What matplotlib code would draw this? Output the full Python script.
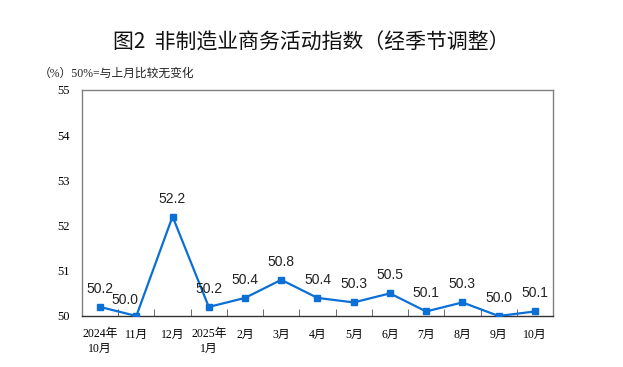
import matplotlib
matplotlib.use("Agg")
import matplotlib.pyplot as plt

categories = ["2024年\n10月", "11月", "12月", "2025年\n1月", "2月", "3月", "4月",
              "5月", "6月", "7月", "8月", "9月", "10月"]
values = [50.2, 50.0, 52.2, 50.2, 50.4, 50.8, 50.4, 50.3, 50.5, 50.1, 50.3, 50.0, 50.1]
yticks = [50, 51, 52, 53, 54, 55]

fam = ['Liberation Serif', 'Noto Sans CJK SC']
fig = plt.figure(figsize=(6.23, 3.67), dpi=100)
ax = fig.add_axes([0.1316, 0.139, 0.756, 0.616])

x = list(range(len(values)))
color = '#0a6fd6'
ax.plot(x, values, color=color, lw=1.6, marker='s', markersize=4.8, zorder=3)

offsets = {1: (-11, 16)}
for i, v in enumerate(values):
    dx, dy = offsets.get(i, (0, 18))
    ax.annotate(f"{v:.1f}", (i, v), xytext=(dx, dy), textcoords='offset pixels',
                ha='center', va='center', fontsize=10, family='Liberation Sans',
                color='#222222')

ax.set_xlim(-0.5, len(values) - 0.5)
ax.set_ylim(50, 55)
ax.set_yticks(yticks)
ax.set_yticklabels([str(t) for t in yticks], family=fam, fontsize=9)
ax.tick_params(axis='y', length=0, pad=9)
ax.set_xticks(x)
ax.set_xticklabels(categories, family=fam, fontsize=8.5, linespacing=1.3)
ax.tick_params(axis='x', which='major', length=0, pad=9)
ax.set_xticks([i + 0.5 for i in range(len(values) - 1)], minor=True)
ax.tick_params(axis='x', which='minor', direction='in', length=5, color='#555555')
for s in ax.spines.values():
    s.set_color('#808080')
    s.set_linewidth(1.0)
ax.spines['bottom'].set_color('#333333')

fig.text(0.5, 0.885, "图2  非制造业商务活动指数（经季节调整）", ha='center', va='center',
         fontsize=15, family=['Noto Sans CJK SC'], color='#111111')
fig.text(0.062, 0.80, "（%）50%=与上月比较无变化", ha='left', va='center',
         fontsize=8.5, family=fam, color='#222222')

fig.savefig("out.png", dpi=100)
